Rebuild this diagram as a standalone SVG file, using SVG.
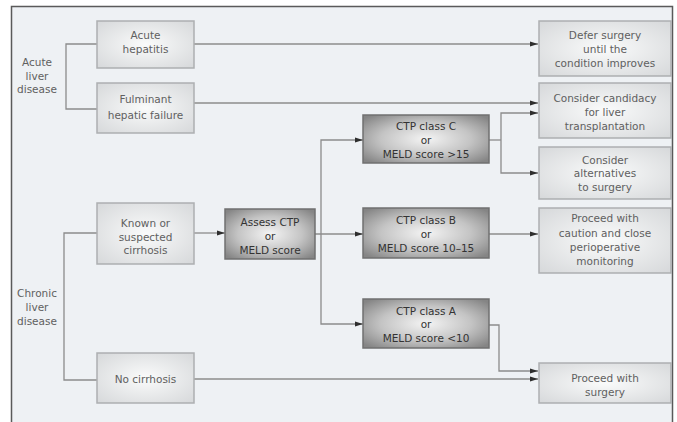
<svg xmlns="http://www.w3.org/2000/svg" width="677" height="422" viewBox="0 0 677 422">
<defs>
<radialGradient id="gl" cx="50%" cy="50%" r="70%">
<stop offset="0" stop-color="#fafbfb"/>
<stop offset="1" stop-color="#d6d8da"/>
</radialGradient>
<radialGradient id="gd" cx="50%" cy="50%" r="65%">
<stop offset="0" stop-color="#f4f4f4"/>
<stop offset="0.55" stop-color="#c4c4c4"/>
<stop offset="1" stop-color="#858585"/>
</radialGradient>
<marker id="ah" viewBox="0 0 8 6" refX="8" refY="3" markerWidth="8" markerHeight="6" markerUnits="userSpaceOnUse" orient="auto">
<path d="M0,0.5 L8,3 L0,5.5 Z" fill="#2e2e2e"/>
</marker>
<style>
.lb{fill:url(#gl);stroke:#adafb1;stroke-width:1.5}
.db{fill:url(#gd);stroke:#707070;stroke-width:1.5}
text{font-family:"DejaVu Sans","Liberation Sans",sans-serif;font-size:10.5px;text-anchor:middle}
.lt{fill:#606060}
.dt{fill:#333333}
.c path{fill:none;stroke:#8c8c8c;stroke-width:1.3}
.c path.a{marker-end:url(#ah)}
</style>
</defs>
<rect x="0" y="0" width="677" height="422" fill="#ffffff"/>
<rect x="11.5" y="6.5" width="661" height="430" fill="#eef1f4" stroke="#5a5a5a" stroke-width="1.5"/>

<g class="c" id="connectors">
<path d="M97,44 H66 V109 H97"/>
<path class="a" d="M194,44 H538"/>
<path class="a" d="M194,103 H538"/>
<path d="M489,140 H501"/>
<path class="a" d="M501,140 V113 H538"/>
<path class="a" d="M501,140 V173 H538"/>
<path d="M97,233 H64 V380 H97"/>
<path class="a" d="M194,233 H225"/>
<path class="a" d="M315,234 H363"/>
<path class="a" d="M321,234 V140 H363"/>
<path class="a" d="M321,234 V324 H363"/>
<path class="a" d="M489,234 H538"/>
<path class="a" d="M489,325 H499 V371 H538"/>
<path class="a" d="M194,379 H538"/>
</g>

<g id="acute-liver-disease">
<text class="lt" x="37" y="66">Acute</text>
<text class="lt" x="37" y="80">liver</text>
<text class="lt" x="37" y="93">disease</text>
</g>
<g id="chronic-liver-disease">
<text class="lt" x="37" y="297">Chronic</text>
<text class="lt" x="37" y="311">liver</text>
<text class="lt" x="37" y="325">disease</text>
</g>

<g id="acute-hepatitis">
<rect class="lb" x="97" y="21" width="97" height="47"/>
<text class="lt" x="145.5" y="39">Acute</text>
<text class="lt" x="145.5" y="53">hepatitis</text>
</g>
<g id="fulminant">
<rect class="lb" x="97" y="83" width="97" height="50"/>
<text class="lt" x="145.5" y="103">Fulminant</text>
<text class="lt" x="145.5" y="119">hepatic failure</text>
</g>
<g id="known-cirrhosis">
<rect class="lb" x="97" y="203" width="97" height="61"/>
<text class="lt" x="145.5" y="227">Known or</text>
<text class="lt" x="145.5" y="241">suspected</text>
<text class="lt" x="145.5" y="254">cirrhosis</text>
</g>
<g id="no-cirrhosis">
<rect class="lb" x="97" y="353" width="97" height="50"/>
<text class="lt" x="145.5" y="383">No cirrhosis</text>
</g>

<g id="assess">
<rect class="db" x="225" y="209" width="90" height="50"/>
<text class="dt" x="270" y="226">Assess CTP</text>
<text class="dt" x="270" y="240">or</text>
<text class="dt" x="270" y="254">MELD score</text>
</g>
<g id="ctp-c">
<rect class="db" x="363" y="115" width="126" height="48"/>
<text class="dt" x="426" y="130">CTP class C</text>
<text class="dt" x="426" y="144">or</text>
<text class="dt" x="426" y="158">MELD score &gt;15</text>
</g>
<g id="ctp-b">
<rect class="db" x="363" y="208" width="126" height="50"/>
<text class="dt" x="426" y="224">CTP class B</text>
<text class="dt" x="426" y="238">or</text>
<text class="dt" x="426" y="252">MELD score 10–15</text>
</g>
<g id="ctp-a">
<rect class="db" x="363" y="299" width="126" height="49"/>
<text class="dt" x="426" y="315">CTP class A</text>
<text class="dt" x="426" y="328">or</text>
<text class="dt" x="426" y="342">MELD score &lt;10</text>
</g>

<g id="defer">
<rect class="lb" x="539" y="21" width="132" height="55"/>
<text class="lt" x="605" y="39">Defer surgery</text>
<text class="lt" x="605" y="53">until the</text>
<text class="lt" x="605" y="67">condition improves</text>
</g>
<g id="candidacy">
<rect class="lb" x="539" y="83" width="132" height="55"/>
<text class="lt" x="605" y="102">Consider candidacy</text>
<text class="lt" x="605" y="116">for liver</text>
<text class="lt" x="605" y="130">transplantation</text>
</g>
<g id="alternatives">
<rect class="lb" x="539" y="147" width="132" height="52"/>
<text class="lt" x="605" y="164">Consider</text>
<text class="lt" x="605" y="177">alternatives</text>
<text class="lt" x="605" y="191">to surgery</text>
</g>
<g id="caution">
<rect class="lb" x="539" y="208" width="132" height="65"/>
<text class="lt" x="605" y="222">Proceed with</text>
<text class="lt" x="605" y="237">caution and close</text>
<text class="lt" x="605" y="251">perioperative</text>
<text class="lt" x="605" y="265">monitoring</text>
</g>
<g id="surgery">
<rect class="lb" x="539" y="363" width="132" height="40"/>
<text class="lt" x="605" y="382">Proceed with</text>
<text class="lt" x="605" y="396">surgery</text>
</g>
</svg>
